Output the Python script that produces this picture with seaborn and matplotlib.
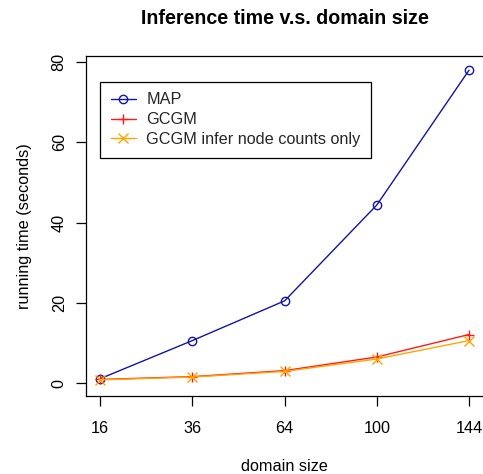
import pandas as pd
import matplotlib
matplotlib.use("Agg")
import matplotlib.pyplot as plt
import seaborn as sns


# ============================
# Data
# ============================

domain_sizes = ["16", "36", "64", "100", "144"]
map_time = [1.1, 10.6, 20.5, 44.4, 78.0]
gcgm_time = [0.9, 1.6, 3.1, 6.5, 12.1]
gcgm_counts_time = [0.8, 1.5, 2.9, 6.0, 10.6]

series_names = ["MAP", "GCGM", "GCGM infer node counts only"]
series_colors = ["#1414A8", "#FF1A1A", "#FFA500"]
series_markers = ["o", "+", "x"]


def build_frame():
    """Long-format table for seaborn."""
    rows = []
    for name, values in zip(series_names, [map_time, gcgm_time, gcgm_counts_time]):
        for i, (size, v) in enumerate(zip(domain_sizes, values)):
            rows.append({"pos": i, "size": size, "series": name, "time": v})
    return pd.DataFrame(rows)


def main():
    sns.set_theme(style="white")
    plt.rcParams['font.family'] = ['Liberation Sans', 'DejaVu Sans']

    df = build_frame()

    W, H = 483, 474
    fig = plt.figure(figsize=(W / 100, H / 100), dpi=100)
    ax = fig.add_axes([85.5 / W, 1 - 395.7 / H, (483.8 - 85.5) / W, (395.7 - 55.7) / H])

    for name, color, marker in zip(series_names, series_colors, series_markers):
        sub = df[df["series"] == name]
        sns.lineplot(data=sub, x="pos", y="time", ax=ax, color=color,
                     marker=marker, markersize=6 if marker == "o" else 7,
                     markerfacecolor="none", markeredgecolor=color,
                     markeredgewidth=1.0, linewidth=1.0, label=name)

    ax.set_xlim(-0.16, len(domain_sizes) - 1 + 0.16)
    ax.set_ylim(-3.15, 81.6)
    ax.set_xticks(range(len(domain_sizes)))
    ax.set_xticklabels(domain_sizes)
    ax.set_yticks([0, 20, 40, 60, 80])

    for side in ["left", "right", "top", "bottom"]:
        ax.spines[side].set_visible(True)
        ax.spines[side].set_color("black")
        ax.spines[side].set_linewidth(0.9)

    ax.tick_params(axis="both", direction="out", length=7.5, width=0.9,
                   color="black", labelsize=11.7, labelcolor="black")
    ax.tick_params(axis="x", bottom=True, pad=10.5)
    ax.tick_params(axis="y", left=True, pad=6)
    for lab in ax.get_yticklabels():
        lab.set_rotation(90)
        lab.set_va("center")

    ax.set_xlabel("domain size", fontsize=11.7, color="black", labelpad=17)
    ax.set_ylabel("running time (seconds)", fontsize=11.7, color="black", labelpad=14)
    ax.set_title("Inference time v.s. domain size", fontsize=14.1,
                 fontweight="bold", color="black", pad=23)

    leg = ax.legend(loc="upper left", bbox_to_anchor=(100 / W, 1 - 81.7 / H),
                    bbox_transform=fig.transFigure, borderaxespad=0,
                    fontsize=11.7, frameon=True, fancybox=False, framealpha=1,
                    edgecolor="black", handlelength=1.55, handletextpad=0.65,
                    labelspacing=0.3, borderpad=0.66)
    leg.get_frame().set_linewidth(0.9)

    fig.savefig("out.png", dpi=100)
    plt.close(fig)


if __name__ == "__main__":
    main()
